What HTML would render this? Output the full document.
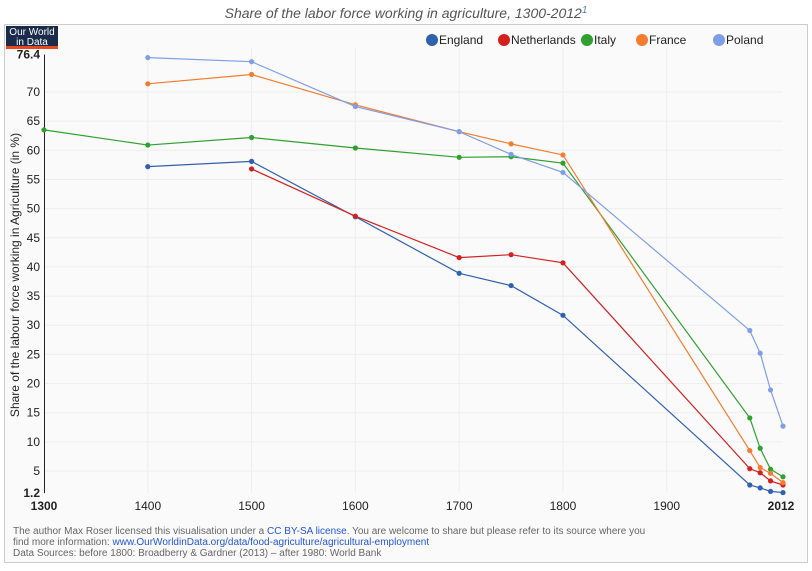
<!DOCTYPE html>
<html><head><meta charset="utf-8"><style>
body{margin:0;width:812px;height:571px;background:#fff;font-family:"Liberation Sans Narrow","Liberation Sans",sans-serif;overflow:hidden}
</style></head><body>
<svg width="812" height="571" style="position:absolute;left:0;top:0">
<text x="406" y="18" text-anchor="middle" font-size="14" font-style="italic" fill="#555">Share of the labor force working in agriculture, 1300-2012<tspan fill="#4a7fd6" font-size="10" dy="-5">1</tspan></text>
<rect x="4.5" y="24.5" width="803" height="538" fill="#fafafa" stroke="#ccc"/>
<g><rect x="6" y="26" width="52" height="22" fill="#1a2b4c"/><rect x="6" y="46" width="52" height="3" fill="#e8481d"/>
<text x="32" y="35" fill="#fff" font-size="10" text-anchor="middle">Our World</text><text x="32" y="45" fill="#fff" font-size="10" text-anchor="middle">in Data</text></g>
<g id="legend"></g>
<g id="grid"></g><g id="axes"></g><g id="series"></g>
<text transform="translate(19,275) rotate(-90)" text-anchor="middle" font-size="12" fill="#222">Share of the labour force working in Agriculture (in %)</text>
<g font-size="10" fill="#666">
<text x="13" y="534">The author Max Roser licensed this visualisation under a <tspan fill="#2255dd">CC BY-SA license</tspan>. You are welcome to share but please refer to its source where you</text>
<text x="13" y="545">find more information:  <tspan fill="#2255dd">www.OurWorldinData.org/data/food-agriculture/agricultural-employment</tspan></text>
<text x="13" y="556">Data Sources: before 1800: Broadberry &amp; Gardner (2013) – after 1980: World Bank</text>
</g>
</svg>
<script>
const seriesNames=["England","Netherlands","Italy","France","Poland"];
const seriesColors=["#3060b0","#d42020","#30a030","#f57c30","#7f9ee8"];
const englandYears=[1400,1500,1600,1700,1750,1800,1980,1990,2000,2012];
const englandValues=[57.2,58.1,48.6,38.9,36.8,31.7,2.6,2.1,1.5,1.3];
const netherlandsYears=[1500,1600,1700,1750,1800,1980,1990,2000,2012];
const netherlandsValues=[56.8,48.7,41.6,42.1,40.7,5.4,4.7,3.3,2.6];
const italyYears=[1300,1400,1500,1600,1700,1750,1800,1980,1990,2000,2012];
const italyValues=[63.5,60.9,62.2,60.4,58.8,58.9,57.8,14.1,8.9,5.3,4.0];
const franceYears=[1400,1500,1600,1700,1750,1800,1980,1990,2000,2012];
const franceValues=[71.4,73.0,67.8,63.2,61.1,59.2,8.5,5.6,4.6,3.0];
const polandYears=[1400,1500,1600,1700,1750,1800,1980,1990,2000,2012];
const polandValues=[75.9,75.2,67.5,63.2,59.3,56.2,29.1,25.2,18.9,12.7];
const yTicks=[76.4,70,65,60,55,50,45,40,35,30,25,20,15,10,5,1.2];
const xTicks=[1300,1400,1500,1600,1700,1800,1900,2012];
const NS="http://www.w3.org/2000/svg";
const X=y=>44+(y-1300)*(783-44)/712;
const Y=v=>471-(v-5)*(471-92)/65;
function mk(t,a,p){const e=document.createElementNS(NS,t);for(const k in a)e.setAttribute(k,a[k]);p.appendChild(e);return e;}
const grid=document.getElementById('grid'),axes=document.getElementById('axes'),ser=document.getElementById('series'),leg=document.getElementById('legend');
yTicks.forEach((v,i)=>{const bold=(i==0||i==yTicks.length-1);
 if(!bold){const l=mk('line',{x1:44,x2:783,y1:Y(v),y2:Y(v),stroke:'#eee'},grid);}
 const t=mk('text',{x:40,y:Y(v)+4,'text-anchor':'end','font-size':12,'font-weight':bold?'bold':'normal',fill:'#222'},axes);t.textContent=v;
 });
xTicks.forEach((v,i)=>{const bold=(i==0||i==xTicks.length-1);
 if(!bold){const l=mk('line',{x1:X(v),x2:X(v),y1:48,y2:493,stroke:'#eee'},grid);}
 const t=mk('text',{x:X(v)+(i==xTicks.length-1?-2:0),y:510,'text-anchor':'middle','font-size':12,'font-weight':bold?'bold':'normal',fill:'#222'},axes);t.textContent=v;
 });
const ax=mk('line',{x1:44.5,x2:44.5,y1:Y(76.4),y2:Y(1.2),stroke:'#222'},axes);

const years=[englandYears,netherlandsYears,italyYears,franceYears,polandYears];
const vals=[englandValues,netherlandsValues,italyValues,franceValues,polandValues];
const legX=[432,504,587,642,719];
seriesNames.forEach((n,s)=>{
 const g=mk('g',{},ser);
 const pts=years[s].map((y,i)=>X(y)+','+Y(vals[s][i])).join(' ');
 const pl=mk('polyline',{points:pts,fill:'none',stroke:seriesColors[s],'stroke-width':1.2},g);
 
 years[s].forEach((y,i)=>{const c=mk('circle',{cx:X(y),cy:Y(vals[s][i]),r:2.6,fill:seriesColors[s]},g);
  });
 const lg=mk('g',{},leg);
 mk('circle',{cx:legX[s],cy:40,r:6,fill:seriesColors[s]},lg);
 const t=mk('text',{x:legX[s]+7,y:44,'font-size':12,fill:'#222'},lg);t.textContent=n;
});
</script>
</body></html>
